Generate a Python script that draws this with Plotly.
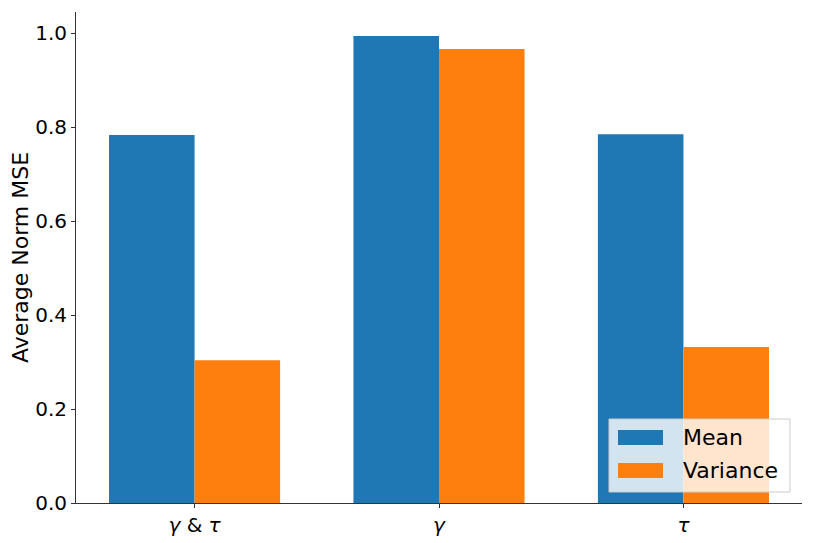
import plotly.graph_objects as go

categories = ["<i>γ</i> & <i>τ</i>", "<i>γ</i>", "<i>τ</i>"]
mean_vals = [0.783, 0.994, 0.785]
var_vals = [0.304, 0.966, 0.332]
y_ticks = [0.0, 0.2, 0.4, 0.6, 0.8, 1.0]
series_names = ["Mean", "Variance"]
series_colors = ["#1f77b4", "#ff7f0e"]

fig = go.Figure()
for name, vals, color in zip(series_names, [mean_vals, var_vals], series_colors):
    fig.add_trace(go.Bar(x=categories, y=vals, name=name, marker_color=color,
                         marker_line_width=0, showlegend=False))

# matplotlib-like legend box (wide swatches) drawn in paper coords
W, H = 726.0, 491.0   # plot area in px
def px(x):
    return (x - 76) / W
def py(y):
    return (503 - y) / H

fig.add_shape(type="rect", xref="paper", yref="paper",
              x0=px(609), x1=px(790), y0=py(492), y1=py(419),
              fillcolor="rgba(255,255,255,0.8)", line=dict(color="#cccccc", width=1))
for i, (name, color) in enumerate(zip(series_names, series_colors)):
    top = 430 + i * 33
    fig.add_shape(type="rect", xref="paper", yref="paper",
                  x0=px(618), x1=px(663), y0=py(top + 15), y1=py(top),
                  fillcolor=color, line=dict(width=0))
    fig.add_annotation(text=name, xref="paper", yref="paper",
                       x=px(681), y=py(top + 7.5), xanchor="left", yanchor="middle",
                       showarrow=False, font=dict(size=22, color="black"))

# page body has an 8px margin, so the figure is shrunk/offset to compensate
fig.update_layout(
    width=806, height=535,
    barmode="group", bargap=0.3, bargroupgap=0,
    plot_bgcolor="white", paper_bgcolor="white",
    margin=dict(l=68, r=12, t=4, b=40),
    font=dict(family="DejaVu Sans", size=20, color="black"),
)
fig.update_xaxes(
    range=[-0.485, 2.485], showline=True, linecolor="#333333", linewidth=1,
    ticks="outside", ticklen=4, tickcolor="#333333", tickfont=dict(size=20),
    showgrid=False, automargin=False,
)
fig.update_yaxes(
    range=[0, 1.045], tickvals=y_ticks, tickformat=".1f",
    showline=True, linecolor="#333333", linewidth=1,
    ticks="outside", ticklen=4, tickcolor="#333333", tickfont=dict(size=20),
    showgrid=False, zeroline=False, automargin=False,
    title=dict(text="Average Norm MSE", font=dict(size=22), standoff=2),
)

fig.write_html("out.html")
